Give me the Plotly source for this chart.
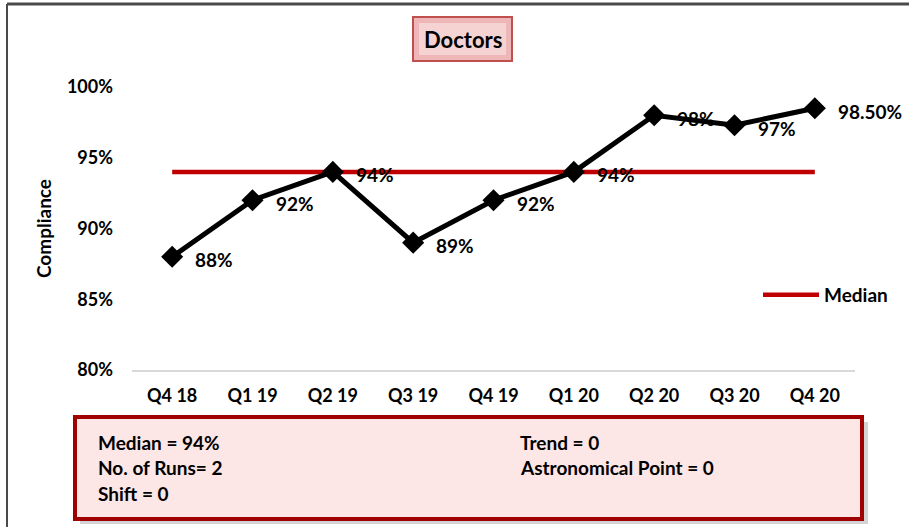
import plotly.graph_objects as go

quarters = ["Q4 18", "Q1 19", "Q2 19", "Q3 19", "Q4 19", "Q1 20", "Q2 20", "Q3 20", "Q4 20"]
compliance = [88, 92, 94, 89, 92, 94, 98, 97.3, 98.5]
point_labels = ["88%", "92%", "94%", "89%", "92%", "94%", "98%", "97%", "98.50%"]
median_value = [94] * len(quarters)
y_ticks = [80, 85, 90, 95, 100]
y_tick_labels = ["80%", "85%", "90%", "95%", "100%"]
stats_left = ["Median = 94%", "No. of Runs= 2", "Shift = 0"]
stats_right = ["Trend = 0", "Astronomical Point = 0"]

W, H = 909, 527
L, R, T, B = 132, 855, 87, 370
FONT = "Lato"


def px(x):
    return (x - L) / (R - L)


def py(y):
    return (B - y) / (B - T)


def bold(t):
    return "<b>" + t + "</b>"


fig = go.Figure()
fig.add_trace(go.Scatter(x=quarters, y=median_value, mode="lines", name=bold("Median"),
                         line=dict(color="#c00000", width=4.5)))
fig.add_trace(go.Scatter(x=quarters, y=compliance, mode="lines+markers", showlegend=False,
                         line=dict(color="black", width=5),
                         marker=dict(symbol="diamond", size=17, color="black")))

for q, v, t in zip(quarters, compliance, point_labels):
    fig.add_annotation(x=q, y=v, text=bold(t), showarrow=False, xanchor="left", xshift=21, yshift=-3,
                       font=dict(size=19, color="black", family=FONT))

shapes = [
    # outer frame
    dict(type="line", xref="paper", yref="paper", x0=px(7), x1=px(909), y0=py(4), y1=py(4),
         line=dict(color="#4a4a4a", width=3)),
    dict(type="line", xref="paper", yref="paper", x0=px(7), x1=px(7), y0=py(4), y1=py(527),
         line=dict(color="#4a4a4a", width=2)),
    # title box
    dict(type="rect", xref="paper", yref="paper", x0=px(413), x1=px(512), y0=py(17), y1=py(61),
         fillcolor="#eeb6b6", line=dict(color="#c0504d", width=2)),
    dict(type="rect", xref="paper", yref="paper", x0=px(419), x1=px(506), y0=py(23), y1=py(55),
         fillcolor="#f6d3d3", line=dict(width=0)),
    # stats box shadow + box
    dict(type="rect", xref="paper", yref="paper", x0=px(80), x1=px(868), y0=py(422), y1=py(524),
         fillcolor="#b8b8b8", line=dict(width=0), opacity=0.6),
    dict(type="rect", xref="paper", yref="paper", x0=px(75), x1=px(862), y0=py(417), y1=py(519),
         fillcolor="#fde6e6", line=dict(color="#a00000", width=4)),
]

fig.add_annotation(xref="paper", yref="paper", x=px(463), y=py(40), text=bold("Doctors"),
                   showarrow=False, xanchor="center", yanchor="middle",
                   font=dict(size=22, color="black", family=FONT))

for i, t in enumerate(stats_left):
    fig.add_annotation(xref="paper", yref="paper", x=px(96), y=py(442 + 25.5 * i), text=bold(t),
                       showarrow=False, xanchor="left", yanchor="middle",
                       font=dict(size=19, color="black", family=FONT))
for i, t in enumerate(stats_right):
    fig.add_annotation(xref="paper", yref="paper", x=px(518), y=py(442 + 25.5 * i), text=bold(t),
                       showarrow=False, xanchor="left", yanchor="middle",
                       font=dict(size=19, color="black", family=FONT))

fig.update_layout(
    width=W, height=H,
    margin=dict(l=L, r=W - R, t=T, b=H - B),
    paper_bgcolor="white", plot_bgcolor="white",
    font=dict(family=FONT, color="black"),
    shapes=shapes,
    legend=dict(x=px(758), y=py(295), xanchor="left", yanchor="middle", itemwidth=56,
                font=dict(size=19, family=FONT), bgcolor="rgba(0,0,0,0)"),
    xaxis=dict(type="category", range=[-0.5, 8.5], showgrid=False, showline=True,
               linecolor="#d9d9d9", linewidth=2, ticks="",
               tickvals=quarters, ticktext=[bold(q) for q in quarters],
               tickfont=dict(size=18, family=FONT), ticklabelstandoff=8),
    yaxis=dict(range=[80, 100], tickvals=y_ticks, ticktext=[bold(t) for t in y_tick_labels],
               showgrid=False, zeroline=False, showline=False, ticks="", ticklabelstandoff=18,
               tickfont=dict(size=18, family=FONT),
               title=dict(text=bold("Compliance"), font=dict(size=19, family=FONT), standoff=10)),
)

fig.write_html("out.html", config={"displayModeBar": False},
               post_script="document.body.style.margin='0px';")
